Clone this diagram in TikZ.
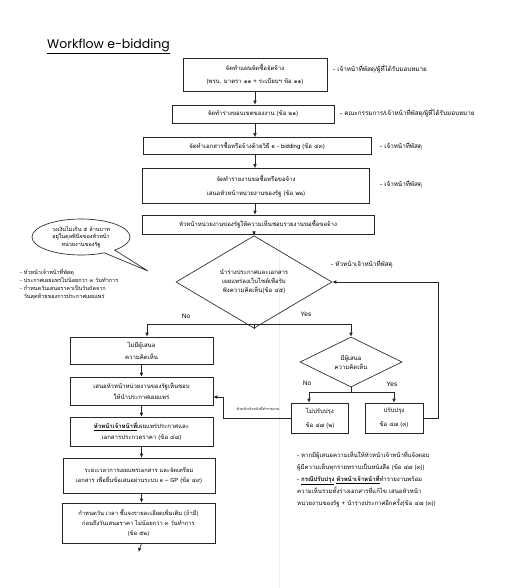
\documentclass[tikz,border=0pt]{standalone}
\usepackage{fontspec}
\setmainfont[Script=Thai]{Loma}
\newfontfamily\titlefont{Poppins}
\newfontfamily\latinfont{Liberation Sans}
\usetikzlibrary{arrows.meta,shapes.geometric,shapes.callouts}
\newcommand{\fs}[2]{\fontsize{#1}{#2}\selectfont}
\tikzset{
  ln/.style={draw=black!85, line width=0.65pt},
  bx/.style={ln, rectangle, inner sep=1pt, align=center, font=\fs{6}{10}},
  dm/.style={ln, diamond, inner sep=0pt, align=center, font=\fs{6}{9}},
  arr/.style={ln, -{Latex[length=4pt,width=3.6pt]}},
  lbl/.style={anchor=west, inner sep=0pt, font=\fs{6.3}{8}},
  yn/.style={inner sep=0pt, font=\latinfont\fs{6.5}{8}},
}
\begin{document}
\begin{tikzpicture}[x=1pt,y=-1pt]
\useasboundingbox[fill=white] (0,0) rectangle (523,588);
% faint scan fold
\draw[gray!12, line width=0.5pt] (279,238) -- (279,588);
% title
\node[anchor=west, inner sep=0pt, font=\titlefont\fs{12.5}{14}] (title) at (47,46) {\underline{Workflow e-bidding}};
% main column
\node[bx, minimum width=144pt, minimum height=33pt, font=\fs{6}{13}] (b1) at (255,74.5) {จัดทำแผนจัดซื้อจัดจ้าง\\(พรบ. มาตรา ๑๑ + ระเบียบฯ ข้อ ๑๑)};
\node[bx, minimum width=162pt, minimum height=18pt] (b2) at (253,114) {จัดทำร่างขอบเขตของงาน (ข้อ ๒๑)};
\node[bx, minimum width=228pt, minimum height=17pt] (b3) at (257,146) {จัดทำเอกสารซื้อหรือจ้างด้วยวิธี e - bidding (ข้อ ๔๓)};
\node[bx, minimum width=227pt, minimum height=35pt, font=\fs{6}{14}] (b4) at (256,186) {จัดทำรายงานขอซื้อหรือขอจ้าง\\เสนอหัวหน้าหน่วยงานของรัฐ (ข้อ ๒๒)};
\node[bx, minimum width=232pt, minimum height=19pt] (b5) at (258,224.5) {หัวหน้าหน่วยงานของรัฐให้ความเห็นชอบรายงานขอซื้อขอจ้าง};
\node[dm, minimum width=156pt, minimum height=76pt] (d1) at (254,282) {นำร่างประกาศและเอกสาร\\เผยแพร่ลงเว็บไซต์เพื่อรับ\\ฟังความคิดเห็น(ข้อ ๔๕)};
\coordinate (j1) at (254,324);
\node[dm, minimum width=102pt, minimum height=50pt] (d2) at (351,362) {มีผู้เสนอ\\ความคิดเห็น};
\coordinate (j2) at (351,392);
\node[bx, minimum width=57pt, minimum height=30pt, font=\fs{6}{14}] (n1) at (320,418) {ไม่ปรับปรุง\\ข้อ ๔๗ (๒)};
\node[bx, minimum width=58pt, minimum height=30pt, font=\fs{6}{14}] (n2) at (394,418) {ปรับปรุง\\ข้อ ๔๗ (๓)};
% left column
\node[bx, minimum width=143pt, minimum height=27pt, font=\fs{6}{12}] (a) at (141.5,350.5) {ไม่มีผู้เสนอ\\ความคิดเห็น};
\node[bx, minimum width=143pt, minimum height=28pt, font=\fs{6}{11}] (b) at (141.5,391) {เสนอหัวหน้าหน่วยงานของรัฐเห็นชอบ\\ให้นำประกาศเผยแพร่};
\node[bx, minimum width=143pt, minimum height=29pt, font=\fs{6}{10.5}] (c) at (141.5,431.5) {\underline{\bfseries หัวหน้าเจ้าหน้าที่}เผยแพร่ประกาศและ\\เอกสารประกวดราคา (ข้อ ๔๘)};
\node[bx, minimum width=152pt, minimum height=35pt, font=\fs{5.8}{10.5}] (d) at (139,475.5) {ระยะเวลาการเผยแพร่เอกสาร และจัดเตรียม\\เอกสาร เพื่อยื่นข้อเสนอผ่านระบบ e – GP (ข้อ ๔๙)};
\node[bx, minimum width=153pt, minimum height=40pt, font=\fs{5.8}{10}] (e) at (138.5,523) {กำหนดวัน เวลา ชี้แจงรายละเอียดเพิ่มเติม (ถ้ามี)\\ก่อนถึงวันเสนอราคา ไม่น้อยกว่า ๓ วันทำการ\\(ข้อ ๕๒)};
\coordinate (eEnd) at (138.5,552);
% callout
\node[ln, ellipse callout, minimum width=98pt, minimum height=36pt, inner sep=0pt, align=center, font=\fs{5.5}{7.5}, callout absolute pointer={(148,271)}] (call) at (81,237) {วงเงินไม่เกิน ๕ ล้านบาท\\อยู่ในดุลพินิจของหัวหน้า\\หน่วยงานของรัฐ};
% arrows main
\draw[arr] (b1.south) -- (b1.south |- b2.north);
\draw[arr] (b1.south |- b2.south) -- (b1.south |- b3.north);
\draw[arr] (b1.south |- b3.south) -- (b1.south |- b4.north);
\draw[arr] (b1.south |- b4.south) -- (b1.south |- b5.north);
\draw[arr] (d1.north |- b5.south) -- (d1.north);
\draw[ln] (d1.south) -- (j1);
\draw[arr] (j1) -| ([xshift=5.5pt]a.north);
\draw[arr] (j1) -| (d2.north);
\draw[ln] (d2.south) -- (j2);
\draw[arr] (j2) -| ([xshift=-11pt]n1.north);
\draw[arr] (j2) -| (n2.north);
\draw[arr] (n2.east) -- ++(15,0) |- (d1.east);
\draw[arr] (n1.west) -- (223,418) |- ([yshift=-6pt]b.east);
% left column arrows
\draw[arr] (a.south) -- (a.south |- b.north);
\draw[arr] (b.south) -- (b.south |- c.north);
\draw[arr] (c.south) -- (c.south |- d.north);
\draw[arr] (c.south |- d.south) -- (c.south |- e.north);
\draw[arr] (c.south |- e.south) -- (eEnd);
% labels
\node[lbl] (l1) at (333,69) {- เจ้าหน้าที่พัสดุ/ผู้ที่ได้รับมอบหมาย};
\node[lbl] (l2) at (340,113) {- คณะกรรมการ/เจ้าหน้าที่พัสดุ/ผู้ที่ได้รับมอบหมาย};
\node[lbl] (l3) at (380,146) {- เจ้าหน้าที่พัสดุ};
\node[lbl] (l4) at (380,184) {- เจ้าหน้าที่พัสดุ};
\node[lbl] (l5) at (331,264) {- หัวหน้าเจ้าหน้าที่พัสดุ};
\node[inner sep=0pt, font=\fs{3.6}{4}] (l6) at (258,409) {หัวหน้าเจ้าหน้าที่ทำรายงาน};
\node[yn] (y1) at (306,314) {Yes};
\node[yn] (no1) at (186,316) {No};
\node[yn] (no2) at (307,383) {No};
\node[yn] (y2) at (392,384) {Yes};
\node[anchor=north west, inner sep=0pt, align=left, font=\fs{5.5}{8}] (left) at (20,268.5) {- หัวหน้าเจ้าหน้าที่พัสดุ\\- ประกาศเผยแพร่ไม่น้อยกว่า ๓ วันทำการ\\- กำหนดวันเสนอราคาเป็นวันถัดจาก\\\hphantom{- }วันสุดท้ายของการประกาศเผยแพร่};
\node[anchor=north west, inner sep=0pt, align=left, font=\fs{6}{12}] (note) at (297,451) {- หากมีผู้เสนอความเห็นให้หัวหน้าเจ้าหน้าที่แจ้งตอบ\\ผู้มีความเห็นทุกรายทราบเป็นหนังสือ (ข้อ ๔๗ (๓))\\- \underline{\bfseries กรณีปรับปรุง} \underline{\bfseries หัวหน้าเจ้าหน้าที่}ทำรายงานพร้อม\\ความเห็นรวมทั้งร่างเอกสารที่แก้ไข เสนอหัวหน้า\\หน่วยงานของรัฐ + นำร่างประกาศอีกครั้ง(ข้อ ๔๗ (๓))};
\end{tikzpicture}
\end{document}
